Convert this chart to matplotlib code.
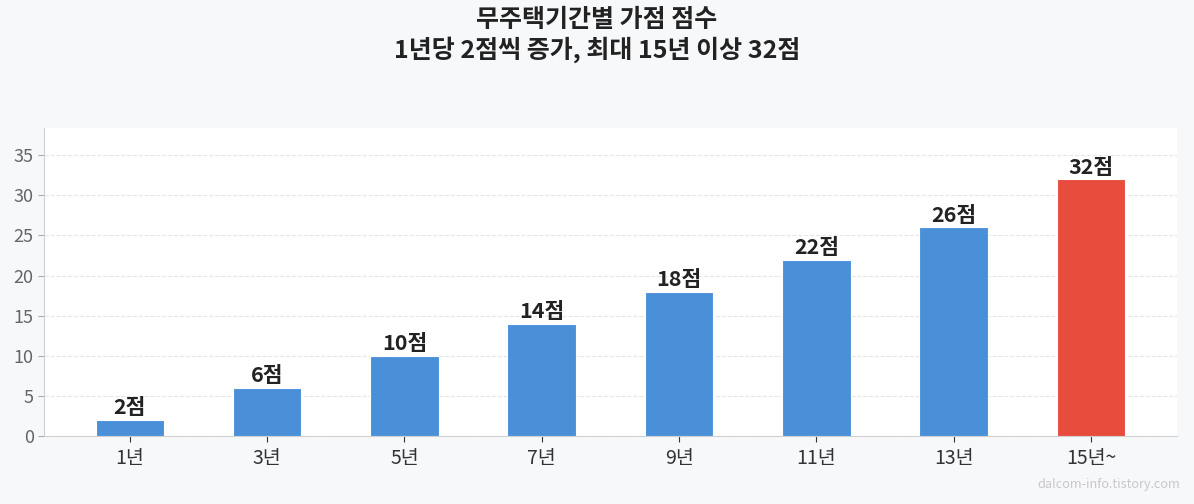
import matplotlib
matplotlib.use("Agg")
import matplotlib.pyplot as plt

plt.rcParams['font.family'] = ['Noto Sans CJK KR', 'DejaVu Sans']

categories = ["1년", "3년", "5년", "7년", "9년", "11년", "13년", "15년~"]
scores = [2, 6, 10, 14, 18, 22, 26, 32]
value_labels = ["2점", "6점", "10점", "14점", "18점", "22점", "26점", "32점"]
title_line1 = "무주택기간별 가점 점수"
title_line2 = "1년당 2점씩 증가, 최대 15년 이상 32점"
watermark = "dalcom-info.tistory.com"

blue = "#4a90d9"
red = "#e74c3c"
colors = [blue] * (len(scores) - 1) + [red]

fig = plt.figure(figsize=(11.94, 5.04), dpi=100, facecolor="#f7f8fa")
ax = fig.add_axes([0.0369, 0.135, 0.9486, 0.611])
ax.set_facecolor("white")

x = list(range(len(categories)))
bars = ax.bar(x, scores, width=0.5, color=colors, edgecolor="white", linewidth=0.8, zorder=3)
for xi, v, lab in zip(x, scores, value_labels):
    ax.text(xi, v + 0.2, lab, ha="center", va="bottom", fontsize=15.5, fontweight="bold", color="#222222", zorder=4)

ax.set_ylim(0, max(scores) * 1.2)
ax.set_yticks([0, 5, 10, 15, 20, 25, 30, 35])
ax.set_xticks(x)
ax.set_xticklabels(categories)
ax.tick_params(axis="x", labelsize=14, labelcolor="#333333", length=4, color="#333333", pad=5)
ax.tick_params(axis="y", labelsize=13, labelcolor="#666666", length=4, color="#aaaaaa")
ax.grid(axis="y", linestyle="--", color="#e6e6e6", linewidth=0.8, zorder=0)
ax.set_axisbelow(True)
for s in ["top", "right"]:
    ax.spines[s].set_visible(False)
for s in ["left", "bottom"]:
    ax.spines[s].set_color("#d0d0d0")

fig.text(0.5, 1 - 20 / 504, title_line1, ha="center", va="center", fontsize=18, fontweight="bold", color="#222222")
fig.text(0.5, 1 - 50 / 504, title_line2, ha="center", va="center", fontsize=18, fontweight="bold", color="#222222")
fig.text(0.988, 0.025, watermark, ha="right", va="bottom", fontsize=9.2, color="#c8c8c8")

fig.savefig("out.png", dpi=100, facecolor=fig.get_facecolor())
